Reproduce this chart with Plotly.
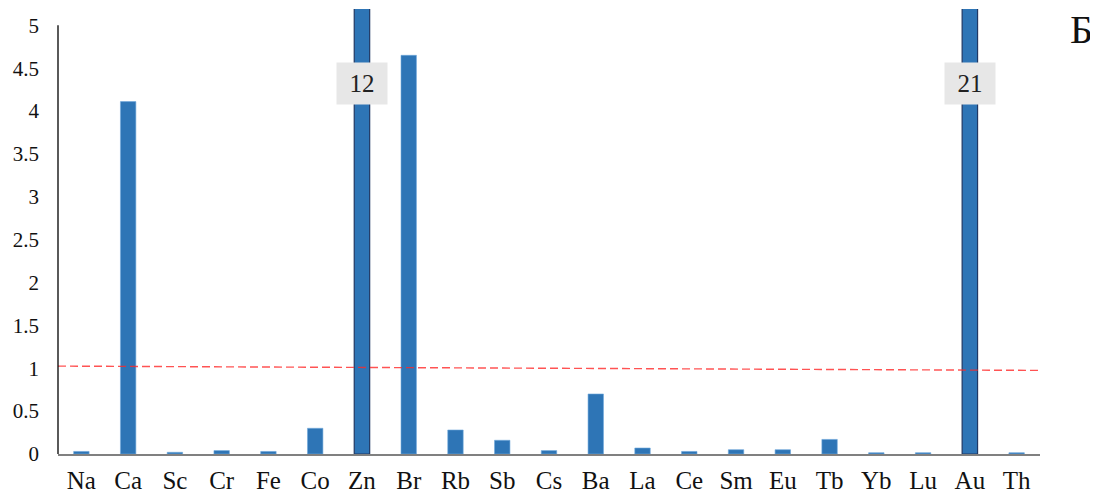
import plotly.graph_objects as go

elements = ["Na", "Ca", "Sc", "Cr", "Fe", "Co", "Zn", "Br", "Rb", "Sb", "Cs",
            "Ba", "La", "Ce", "Sm", "Eu", "Tb", "Yb", "Lu", "Au", "Th"]
values = [0.03, 4.11, 0.02, 0.04, 0.03, 0.30, 12, 4.65, 0.28, 0.16, 0.04,
          0.70, 0.07, 0.03, 0.05, 0.05, 0.17, 0.015, 0.015, 21, 0.015]
y_ticks = [0, 0.5, 1, 1.5, 2, 2.5, 3, 3.5, 4, 4.5, 5]
y_tick_labels = ["0", "0.5", "1", "1.5", "2", "2.5", "3", "3.5", "4", "4.5", "5"]
ref_line = [1.025, 0.975]  # start, end of dashed reference line
y_max = 5.19
axis_top = 5
label_y = 4.32
panel_letter = "Б"

FONT = "Liberation Serif"
outlier = [v > y_max for v in values]
line_colors = ["#203864" if o else "#6FA8DC" for o in outlier]
line_widths = [1.2 if o else 0.6 for o in outlier]

fig = go.Figure()
fig.add_trace(go.Bar(
    x=elements, y=values,
    marker=dict(color="#2E75B6", line=dict(color=line_colors, width=line_widths)),
    width=0.33, showlegend=False, hoverinfo="x+y",
))

# labels for off-scale bars
for el, v, o in zip(elements, values, outlier):
    if o:
        fig.add_annotation(x=el, y=label_y, text=str(v), showarrow=False,
                           font=dict(family=FONT, size=25, color="#222"),
                           bgcolor="#E7E7E7", width=48, height=39,
                           xref="x", yref="y")

# dashed reference line
fig.add_shape(type="line", xref="paper", yref="y", x0=0, x1=1,
              y0=ref_line[0], y1=ref_line[1],
              line=dict(color="rgba(255,40,40,0.8)", width=1.4, dash="8px,4px"))
# y axis line up to 5
fig.add_shape(type="line", xref="paper", yref="y", x0=0, x1=0, y0=0, y1=axis_top,
              line=dict(color="#000000", width=1.3))

fig.add_annotation(xref="paper", yref="paper", x=(1081 - 58) / 982, y=1.0 - (29 - 9) / 445,
                   text=panel_letter, showarrow=False, xanchor="center", yanchor="middle",
                   font=dict(family=FONT, size=40, color="#111"))

fig.update_layout(
    width=1090, height=487,
    margin=dict(l=50, r=58, t=1, b=41),
    plot_bgcolor="white", paper_bgcolor="white",
    xaxis=dict(showline=True, linecolor="#808080", linewidth=1.5, ticks="",
               showgrid=False, tickfont=dict(family=FONT, size=25, color="#111"),
               ticklabelstandoff=3, automargin=False),
    yaxis=dict(range=[0, y_max], showline=False, showgrid=False, zeroline=False,
               tickvals=y_ticks, ticktext=y_tick_labels, ticks="",
               tickfont=dict(family=FONT, size=21, color="#111"),
               ticklabelstandoff=18, automargin=False),
)

fig.write_html("out.html")
